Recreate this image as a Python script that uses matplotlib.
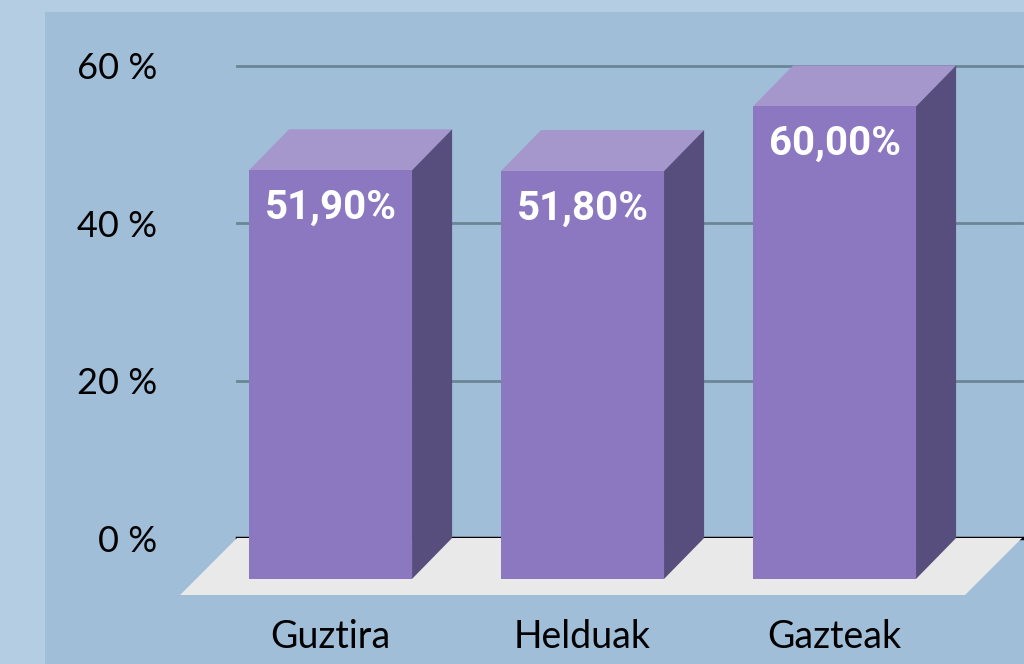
import matplotlib
matplotlib.use("Agg")
import matplotlib.pyplot as plt
from matplotlib.patches import Polygon, Rectangle

categories = ["Guztira", "Helduak", "Gazteak"]
values = [51.9, 51.8, 60.0]
value_labels = ["51,90%", "51,80%", "60,00%"]
y_ticks = [0, 20, 40, 60]

# colours
outer_bg = "#b5cde2"
panel_bg = "#a0bed8"
front_col = "#8c78c0"
top_col = "#a596cc"
side_col = "#574e7d"
floor_col = "#e9e9e9"
grid_col = "#6a8696"

# 3d look (in data units)
bar_w = 0.647
depth_x = 0.159
depth_y = 5.2
floor_dx = 0.226
floor_dy = 7.24
wall_left, wall_right = -0.371, 2.744

fig = plt.figure(figsize=(10.24, 6.64), dpi=100)
fig.patch.set_facecolor(outer_bg)
fig.patches.append(Rectangle((45 / 1024, 0), 1 - 45 / 1024, 1 - 12 / 664,
                             transform=fig.transFigure, facecolor=panel_bg,
                             edgecolor="none", zorder=-5))

ax = fig.add_axes([170 / 1024, 63 / 664, 854 / 1024, 559.1 / 664])
ax.set_zorder(2)
ax.set_facecolor("none")
ax.set_xlim(-0.637, 2.752)
ax.set_ylim(-8, 63)
for s in ax.spines.values():
    s.set_visible(False)

# back wall grid
for t in y_ticks:
    if t == 0:
        ax.plot([wall_left, wall_right], [t, t], color="black", lw=2.5, zorder=1)
    else:
        ax.plot([wall_left, wall_right], [t, t], color=grid_col, lw=2, zorder=1)

# floor
ax.add_patch(Polygon([(wall_left, 0), (wall_right, 0),
                      (wall_right - floor_dx, -floor_dy), (wall_left - floor_dx, -floor_dy)],
                     closed=True, facecolor=floor_col, edgecolor="none", zorder=2))

xs = list(range(len(categories)))
ax.bar(xs, values, width=bar_w, bottom=-depth_y, color=front_col, zorder=4)

for x, v, lab in zip(xs, values, value_labels):
    l, r = x - bar_w / 2, x + bar_w / 2
    top = v - depth_y
    ax.add_patch(Polygon([(l, top), (r, top), (r + depth_x, v), (l + depth_x, v)],
                         closed=True, facecolor=top_col, edgecolor="none", zorder=3))
    ax.add_patch(Polygon([(r, top), (r, -depth_y), (r + depth_x, 0), (r + depth_x, v)],
                         closed=True, facecolor=side_col, edgecolor="none", zorder=3))
    ax.annotate(lab, (x, top), xytext=(0, -27), textcoords="offset points",
                ha="center", va="center", color="white", fontsize=29,
                fontweight="bold", family="Roboto", zorder=5)
    ax.text(x, -12.6, categories[x], ha="center", va="center", fontsize=27,
            family="Lato", color="black", clip_on=False)

ax.set_xticks([])
ax.set_yticks(y_ticks)
ax.set_yticklabels([f"{t} %" for t in y_ticks], family="Lato", fontsize=26)
ax.tick_params(axis="y", length=0, pad=9)

fig.savefig("out.png", dpi=100, facecolor=fig.get_facecolor())
